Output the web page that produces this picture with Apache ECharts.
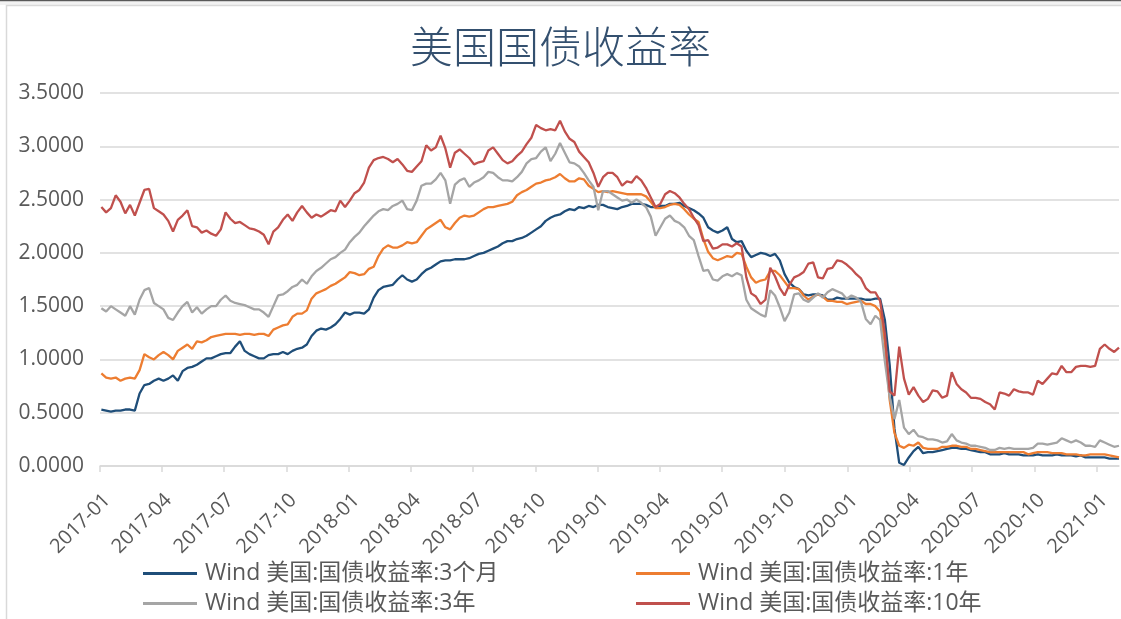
<!DOCTYPE html>
<html><head><meta charset="utf-8">
<script src="https://cdn.jsdelivr.net/npm/echarts@6/dist/echarts.min.js"></script>
<style>html,body{margin:0;padding:0;background:#fff}#c{width:1121px;height:619px}</style>
</head><body><div id="c"></div>
<script>
// Weekly observations starting 2017-01-03, one every 7 days (214 points, to 2021-02-02)
const firstDate = '2017-01-03';
const stepDays = 7;
const pointCount = 214;
const quarterTicks = ['2017-01','2017-04','2017-07','2017-10','2018-01','2018-04','2018-07','2018-10',
  '2019-01','2019-04','2019-07','2019-10','2020-01','2020-04','2020-07','2020-10','2021-01'];
const yTicks = [0, 0.5, 1, 1.5, 2, 2.5, 3, 3.5];
const names = ['Wind 美国:国债收益率:3个月','Wind 美国:国债收益率:1年','Wind 美国:国债收益率:3年','Wind 美国:国债收益率:10年'];
const colors = ['#1F4E79','#ED7D31','#A5A5A5','#C0504D'];

const y3m = [0.53,0.52,0.51,0.52,0.52,0.53,0.53,0.52,0.68,0.76,
0.77,0.80,0.82,0.80,0.82,0.85,0.80,0.89,0.92,0.93,
0.95,0.98,1.01,1.01,1.03,1.05,1.06,1.06,1.12,1.17,
1.08,1.05,1.03,1.01,1.01,1.04,1.05,1.05,1.07,1.05,
1.08,1.10,1.11,1.14,1.22,1.27,1.29,1.28,1.30,1.33,
1.38,1.44,1.42,1.44,1.44,1.43,1.47,1.58,1.65,1.68,
1.69,1.70,1.75,1.79,1.75,1.73,1.75,1.80,1.84,1.86,
1.89,1.92,1.93,1.93,1.94,1.94,1.94,1.95,1.97,1.99,
2.00,2.02,2.04,2.06,2.09,2.11,2.11,2.13,2.14,2.16,
2.19,2.22,2.25,2.30,2.33,2.35,2.36,2.39,2.41,2.40,
2.43,2.42,2.44,2.43,2.45,2.45,2.43,2.42,2.41,2.43,
2.44,2.46,2.46,2.46,2.45,2.43,2.43,2.44,2.44,2.46,
2.46,2.47,2.44,2.42,2.40,2.37,2.33,2.24,2.21,2.19,
2.21,2.24,2.13,2.10,2.11,2.02,1.96,1.98,2.00,1.99,
1.97,1.99,1.93,1.80,1.72,1.68,1.66,1.61,1.60,1.61,
1.61,1.60,1.56,1.56,1.58,1.57,1.57,1.57,1.57,1.57,
1.56,1.56,1.57,1.57,1.37,0.95,0.35,0.03,0.01,0.08,
0.14,0.18,0.12,0.13,0.13,0.14,0.15,0.16,0.17,0.17,
0.16,0.16,0.15,0.14,0.13,0.13,0.11,0.11,0.11,0.12,
0.11,0.11,0.11,0.10,0.10,0.10,0.11,0.10,0.10,0.10,
0.11,0.10,0.10,0.10,0.09,0.10,0.08,0.08,0.08,0.08,
0.08,0.07,0.07,0.07];

const y1y = [0.87,0.83,0.82,0.83,0.80,0.82,0.83,0.82,0.90,1.05,
1.02,1.00,1.04,1.07,1.04,1.00,1.08,1.11,1.14,1.10,
1.17,1.16,1.18,1.21,1.22,1.23,1.24,1.24,1.24,1.23,
1.24,1.24,1.23,1.24,1.24,1.22,1.28,1.30,1.32,1.33,
1.40,1.43,1.43,1.46,1.57,1.62,1.64,1.66,1.69,1.71,
1.74,1.77,1.82,1.81,1.79,1.80,1.85,1.87,1.97,2.04,
2.07,2.05,2.05,2.07,2.10,2.09,2.10,2.16,2.22,2.25,
2.28,2.31,2.24,2.22,2.28,2.33,2.35,2.34,2.35,2.38,
2.41,2.43,2.43,2.44,2.45,2.46,2.48,2.54,2.57,2.59,
2.62,2.65,2.66,2.68,2.69,2.71,2.74,2.70,2.67,2.67,
2.70,2.69,2.63,2.60,2.57,2.58,2.57,2.58,2.57,2.56,
2.55,2.55,2.55,2.55,2.53,2.48,2.42,2.42,2.43,2.45,
2.46,2.45,2.41,2.36,2.32,2.29,2.13,2.01,1.95,1.93,
1.95,1.97,1.96,2.00,1.99,1.87,1.77,1.72,1.74,1.75,
1.83,1.83,1.79,1.73,1.67,1.67,1.66,1.60,1.56,1.59,
1.61,1.59,1.55,1.55,1.54,1.54,1.52,1.53,1.54,1.55,
1.52,1.52,1.50,1.45,1.15,0.62,0.31,0.19,0.17,0.20,
0.19,0.22,0.17,0.16,0.16,0.16,0.18,0.18,0.19,0.19,
0.18,0.18,0.16,0.16,0.15,0.14,0.13,0.13,0.13,0.13,
0.13,0.13,0.13,0.13,0.11,0.12,0.13,0.13,0.13,0.12,
0.12,0.12,0.11,0.11,0.11,0.10,0.10,0.11,0.11,0.11,
0.11,0.10,0.09,0.08];

const y3y = [1.48,1.45,1.50,1.47,1.44,1.41,1.50,1.42,1.56,1.65,
1.67,1.53,1.50,1.47,1.39,1.37,1.44,1.50,1.54,1.44,
1.49,1.43,1.47,1.50,1.50,1.56,1.60,1.55,1.53,1.52,
1.51,1.49,1.47,1.47,1.44,1.40,1.50,1.60,1.61,1.64,
1.68,1.70,1.75,1.71,1.78,1.83,1.86,1.90,1.94,1.96,
2.00,2.03,2.10,2.15,2.19,2.25,2.30,2.35,2.39,2.41,
2.40,2.44,2.46,2.49,2.41,2.40,2.49,2.63,2.65,2.65,
2.69,2.75,2.68,2.46,2.64,2.68,2.70,2.62,2.66,2.68,
2.71,2.76,2.75,2.71,2.68,2.68,2.67,2.71,2.76,2.84,
2.88,2.89,2.95,2.99,2.86,2.93,3.03,2.94,2.85,2.84,
2.81,2.75,2.68,2.62,2.40,2.58,2.58,2.55,2.52,2.49,
2.50,2.47,2.50,2.47,2.43,2.34,2.16,2.24,2.32,2.35,
2.30,2.28,2.24,2.16,2.12,1.97,1.83,1.84,1.75,1.74,
1.78,1.80,1.78,1.81,1.79,1.56,1.48,1.45,1.42,1.40,
1.65,1.60,1.49,1.36,1.44,1.61,1.62,1.56,1.54,1.58,
1.62,1.58,1.63,1.66,1.64,1.62,1.57,1.60,1.58,1.54,
1.38,1.33,1.41,1.37,0.98,0.65,0.44,0.62,0.36,0.30,
0.34,0.28,0.27,0.25,0.25,0.24,0.22,0.23,0.30,0.24,
0.22,0.21,0.19,0.19,0.18,0.17,0.15,0.15,0.17,0.16,
0.17,0.16,0.16,0.16,0.16,0.17,0.21,0.21,0.20,0.21,
0.22,0.26,0.24,0.22,0.24,0.22,0.19,0.19,0.18,0.24,
0.22,0.20,0.18,0.19];

const y10y = [2.43,2.38,2.42,2.54,2.48,2.37,2.45,2.35,2.47,2.59,
2.60,2.42,2.39,2.36,2.30,2.20,2.31,2.35,2.40,2.25,
2.24,2.19,2.21,2.18,2.16,2.22,2.38,2.32,2.28,2.29,
2.26,2.23,2.22,2.20,2.17,2.08,2.20,2.24,2.31,2.36,
2.30,2.38,2.44,2.38,2.33,2.36,2.34,2.37,2.40,2.39,
2.49,2.43,2.49,2.56,2.59,2.66,2.80,2.87,2.89,2.90,
2.88,2.85,2.88,2.83,2.77,2.76,2.81,2.86,3.01,2.96,
2.99,3.10,2.98,2.80,2.94,2.97,2.93,2.89,2.83,2.85,
2.86,2.96,2.99,2.93,2.87,2.84,2.86,2.91,2.95,3.02,
3.08,3.20,3.17,3.15,3.16,3.15,3.24,3.14,3.07,3.04,
2.95,2.90,2.85,2.75,2.62,2.71,2.75,2.75,2.71,2.63,
2.67,2.66,2.72,2.68,2.61,2.52,2.43,2.46,2.55,2.58,
2.56,2.52,2.46,2.41,2.33,2.26,2.11,2.12,2.04,2.05,
2.08,2.08,2.06,2.09,2.06,1.77,1.62,1.59,1.52,1.56,
1.86,1.78,1.67,1.60,1.70,1.77,1.79,1.82,1.90,1.91,
1.77,1.76,1.85,1.86,1.93,1.92,1.89,1.85,1.80,1.76,
1.67,1.63,1.63,1.55,1.24,0.70,0.66,1.12,0.82,0.67,
0.74,0.66,0.60,0.63,0.71,0.70,0.64,0.66,0.88,0.77,
0.72,0.69,0.64,0.64,0.63,0.60,0.58,0.53,0.69,0.68,
0.66,0.72,0.70,0.69,0.69,0.67,0.80,0.77,0.82,0.87,
0.86,0.94,0.88,0.88,0.93,0.94,0.94,0.93,0.94,1.10,
1.14,1.10,1.07,1.11];

function parseDay(s){ const p = s.split('-').map(Number); return Date.UTC(p[0], p[1]-1, p[2] || 1); }
const t0 = parseDay(firstDate);
const dates = [];
for (let i = 0; i < pointCount; i++) dates.push(t0 + i * stepDays * 86400000);
const tickValues = quarterTicks.map(parseDay);
const allSeries = [y3m, y1y, y3y, y10y];

const chart = echarts.init(document.getElementById('c'), null, {renderer: 'canvas'});
const fontLatin = "'Open Sans', 'Noto Sans CJK SC', sans-serif";
const fontCJK = "'Open Sans', 'Noto Sans CJK SC', sans-serif";
const legendPos = [[143, 562], [636, 562], [143, 592], [636, 592]];

chart.setOption({
  animation: false,
  backgroundColor: '#ffffff',
  graphic: [
    {type: 'rect', shape: {x: 0, y: 0, width: 1121, height: 1.5}, style: {fill: '#595959'}, silent: true},
    {type: 'rect', shape: {x: 0, y: 1.5, width: 1121, height: 3.5}, style: {fill: '#f2f2f2'}, silent: true},
    {type: 'rect', shape: {x: 6.5, y: 5.5, width: 1130, height: 640}, style: {fill: 'none', stroke: '#d9d9d9', lineWidth: 1.5}, silent: true}
  ],
  title: {
    text: '美国国债收益率', left: 'center', top: 20,
    textStyle: {fontFamily: "'Noto Sans CJK SC', sans-serif", fontWeight: 300, fontSize: 43, color: '#34506F'}
  },
  legend: names.map((n, k) => ({
    data: [n], left: legendPos[k][0], top: legendPos[k][1], padding: 0,
    icon: 'rect', itemWidth: 54, itemHeight: 3, itemGap: 0,
    textStyle: {fontFamily: fontCJK, fontSize: 23, color: '#595959', padding: [0, 0, 0, 3]}
  })),
  grid: {left: 100, right: 2, top: 93, bottom: 153, containLabel: false},
  xAxis: {
    type: 'value', min: parseDay('2017-01-01'), max: parseDay('2021-02-02'),
    axisLine: {show: true, onZero: false, lineStyle: {color: '#d9d9d9', width: 1.5}},
    axisTick: {show: true, length: 6, lineStyle: {color: '#d9d9d9', width: 1.5}, customValues: tickValues},
    splitLine: {show: false},
    axisLabel: {
      customValues: tickValues, rotate: 45, margin: 24, fontSize: 20, color: '#595959', fontFamily: fontLatin,
      verticalAlign: 'top',
      formatter: function (v) { const d = new Date(v); return d.getUTCFullYear() + '-' + String(d.getUTCMonth() + 1).padStart(2, '0'); }
    }
  },
  yAxis: {
    type: 'value', min: 0, max: 3.5, interval: 0.5,
    axisLine: {show: false}, axisTick: {show: false},
    splitLine: {show: true, lineStyle: {color: '#d9d9d9', width: 1.5}},
    axisLabel: {fontSize: 21, color: '#595959', fontFamily: fontLatin, margin: 16,
      formatter: function (v) { return yTicks.indexOf(v) >= 0 ? v.toFixed(4) : ''; }}
  },
  series: allSeries.map((arr, k) => ({
    name: names[k], type: 'line', showSymbol: false, symbol: 'none',
    data: arr.map((v, i) => [dates[i], v]),
    lineStyle: {color: colors[k], width: 2.3}, itemStyle: {color: colors[k]},
    clip: true
  }))
});
</script></body></html>
